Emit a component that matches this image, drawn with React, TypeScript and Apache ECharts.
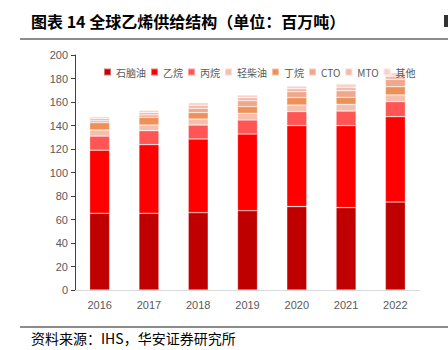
import React, { useEffect, useRef } from "react";
import * as echarts from "echarts";

const years = ["2016", "2017", "2018", "2019", "2020", "2021", "2022"];
const seriesNames = ["石脑油", "乙烷", "丙烷", "轻柴油", "丁烷", "CTO", "MTO", "其他"];
const naphtha = [65.3, 65.3, 65.8, 67.5, 71.0, 70.1, 74.9];
const ethane = [53.7, 58.4, 62.7, 65.3, 68.9, 69.8, 72.6];
const propane = [12.0, 11.9, 11.9, 11.9, 11.9, 12.4, 12.8];
const lightDiesel = [5.2, 4.8, 5.1, 5.7, 5.6, 5.7, 5.7];
const butane = [6.2, 6.6, 5.5, 5.6, 6.3, 6.0, 7.0];
const cto = [1.6, 2.0, 3.6, 5.1, 5.1, 5.6, 6.3];
const mto = [2.0, 2.0, 2.6, 2.6, 2.5, 2.9, 2.7];
const other = [1.5, 2.0, 2.2, 2.3, 2.3, 2.8, 3.0];
const yTicks = { min: 0, max: 200, interval: 20 };

const colors = ["#C00000", "#FF0000", "#FF5555", "#F5BFAE", "#EF9058", "#F0A88C", "#F4B9A8", "#F8D2C8"];
const values = [naphtha, ethane, propane, lightDiesel, butane, cto, mto, other];

export default function App() {
  const ref = useRef<HTMLDivElement>(null);
  useEffect(() => {
    if (!ref.current) return;
    const chart = echarts.init(ref.current, undefined, { renderer: "svg" });
    chart.setOption({
      animation: false,
      color: colors,
      grid: { left: 75, right: 28, top: 55, bottom: 60 },
      legend: {
        top: 62,
        left: 98,
        width: 360,
        itemWidth: 7,
        itemHeight: 7,
        itemGap: 4,
        icon: "rect",
        textStyle: { fontSize: 10, color: "#595959", fontFamily: "Noto Sans CJK SC" },
        data: seriesNames,
      },
      xAxis: {
        type: "category",
        data: years,
        axisLine: { lineStyle: { color: "#D9D9D9" } },
        axisTick: { lineStyle: { color: "#D9D9D9" }, length: 4 },
        axisLabel: { color: "#595959", fontSize: 11, margin: 9, fontFamily: "Liberation Sans" },
      },
      yAxis: {
        type: "value",
        min: yTicks.min,
        max: yTicks.max,
        interval: yTicks.interval,
        splitLine: { show: false },
        axisLine: { show: true, lineStyle: { color: "#404040" } },
        axisTick: { show: true, length: 4, lineStyle: { color: "#404040" } },
        axisLabel: { color: "#595959", fontSize: 11, margin: 7, fontFamily: "Liberation Sans" },
      },
      series: seriesNames.map((name, i) => ({
        name,
        type: "bar",
        stack: "total",
        barWidth: 20,
        data: values[i],
        itemStyle: { borderColor: "rgba(255,255,255,0.45)", borderWidth: 0.6 },
      })),
      graphic: [
        {
          type: "text",
          left: 31,
          top: 13,
          style: {
            text: "图表 14 全球乙烯供给结构（单位：百万吨）",
            font: "bold 16px 'Noto Sans CJK SC'",
            fill: "#000000",
          },
        },
        { type: "rect", shape: { x: 20, y: 38, width: 428, height: 2 }, style: { fill: "#8C8C8C" } },
        { type: "rect", shape: { x: 444, y: 15, width: 4, height: 12 }, style: { fill: "#333333" } },
        { type: "rect", shape: { x: 20, y: 326, width: 428, height: 2 }, style: { fill: "#8C8C8C" } },
        {
          type: "text",
          left: 31,
          top: 331,
          style: {
            text: "资料来源：IHS，华安证券研究所",
            font: "14px 'Noto Sans CJK SC'",
            fill: "#000000",
          },
        },
      ],
    });
    return () => chart.dispose();
  }, []);
  return <div ref={ref} style={{ width: 448, height: 350, position: "absolute", left: 0, top: 0 }} />;
}
